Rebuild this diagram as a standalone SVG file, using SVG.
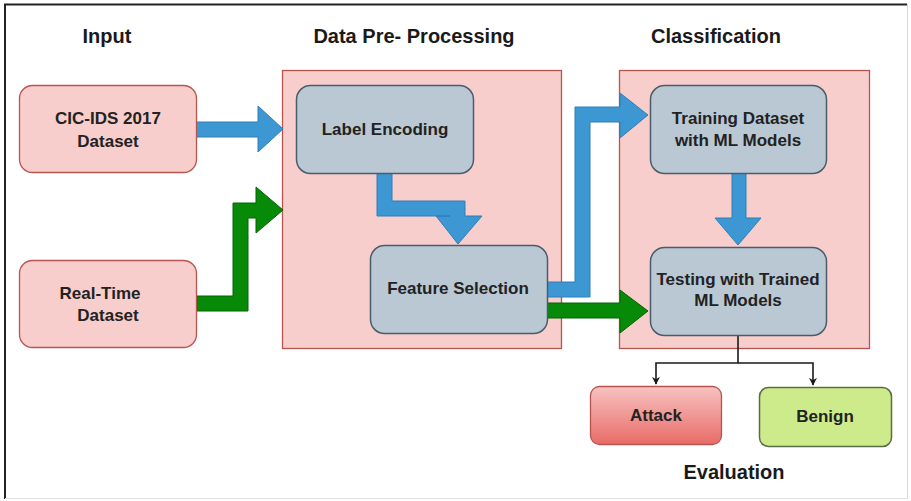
<svg xmlns="http://www.w3.org/2000/svg" width="911" height="501" viewBox="0 0 911 501">
<defs>
<style>
.t{font-family:"Liberation Sans",Arial,sans-serif;font-weight:bold;fill:#1a1a1a}
.title{font-size:20px}
.lbl{font-size:17px;fill:#222}
.in{fill:#f8cecc;stroke:#b85450;stroke-width:1.3}
.grp{fill:#f8cecc;stroke:#b85450;stroke-width:1.3}
.proc{fill:#bac8d3;stroke:#4a5c6b;stroke-width:1.5}
.blue{fill:#3d97d3;stroke:#2f7fb8;stroke-width:1}
.green{fill:#078a07;stroke:#056405;stroke-width:1}
.edge{fill:none;stroke:#1a1a1a;stroke-width:1.6}
</style>
<linearGradient id="gAttack" x1="0" y1="0" x2="0" y2="1">
<stop offset="0" stop-color="#f6c3c1"/>
<stop offset="1" stop-color="#e96b67"/>
</linearGradient>
<marker id="ah" viewBox="0 0 10 10" refX="9" refY="5" markerWidth="8" markerHeight="8" markerUnits="userSpaceOnUse" orient="auto">
<path d="M0,0 L10,5 L0,10 L3,5 Z" fill="#1a1a1a"/>
</marker>
</defs>
<rect width="911" height="501" fill="#ffffff"/>
<line x1="4" y1="4.5" x2="907" y2="4.5" stroke="#222" stroke-width="2"/>
<line x1="5" y1="4" x2="5" y2="499" stroke="#222" stroke-width="2"/>
<line x1="907.5" y1="4" x2="907.5" y2="499" stroke="#d8d8d8" stroke-width="1"/>
<line x1="5" y1="498.5" x2="908" y2="498.5" stroke="#e0e0e0" stroke-width="1"/>

<g id="title-input"><text class="t title" x="107" y="43" text-anchor="middle">Input</text></g>
<g id="title-preprocessing"><text class="t title" x="414" y="43" text-anchor="middle">Data Pre- Processing</text></g>
<g id="title-classification"><text class="t title" x="716" y="43" text-anchor="middle">Classification</text></g>
<g id="title-evaluation"><text class="t title" x="734" y="479" text-anchor="middle">Evaluation</text></g>

<g id="group-preprocessing"><rect class="grp" x="282.5" y="70.5" width="279" height="278"/></g>
<g id="group-classification"><rect class="grp" x="619.5" y="70.5" width="250" height="278"/></g>

<g id="connectors">
<path class="blue" d="M196,122 H258 V106 L283,129 L258,152 V137 H196 Z"/>
<path class="green" d="M197,296 H233 V203 H256 V187 L283,210 L256,233 V218 H248 V311 H197 Z"/>
<path class="blue" d="M377,173 H392 V201 H465 V216 H482 L458,244 L436,216 H450 H377 Z"/>
<path class="blue" d="M547,282 H575 V107 H620 V93 L648,115 L620,138 V122 H590 V297 H547 Z"/>
<path class="green" d="M547,303 H620 V290 L648,311 L620,333 V318 H547 Z"/>
<path class="blue" d="M732,173 H746 V218 H761 L738,245 L715,218 H732 Z"/>
<path class="edge" d="M738,335 V363 H656 V384" marker-end="url(#ah)"/>
<path class="edge" d="M738,363 H813 V385" marker-end="url(#ah)"/>
</g>

<g id="node-cicids">
<rect class="in" x="19.5" y="85.5" width="177" height="87" rx="13"/>
<text class="t lbl" x="108" y="124" text-anchor="middle">CIC-IDS 2017</text>
<text class="t lbl" x="108" y="147" text-anchor="middle">Dataset</text>
</g>
<g id="node-realtime">
<rect class="in" x="19.5" y="260.5" width="177" height="87" rx="13"/>
<text class="t lbl" x="100" y="299" text-anchor="middle">Real-Time</text>
<text class="t lbl" x="108" y="321" text-anchor="middle">Dataset</text>
</g>
<g id="node-label-encoding">
<rect class="proc" x="296.5" y="85.5" width="177" height="88" rx="14"/>
<text class="t lbl" x="385" y="135" text-anchor="middle">Label Encoding</text>
</g>
<g id="node-feature-selection">
<rect class="proc" x="370.5" y="245.5" width="177" height="88" rx="14"/>
<text class="t lbl" x="458" y="294" text-anchor="middle">Feature Selection</text>
</g>
<g id="node-training">
<rect class="proc" x="650.5" y="85.5" width="176" height="88" rx="14"/>
<text class="t lbl" x="738" y="124" text-anchor="middle">Training Dataset</text>
<text class="t lbl" x="738" y="146" text-anchor="middle">with ML Models</text>
</g>
<g id="node-testing">
<rect class="proc" x="650.5" y="247.5" width="176" height="88" rx="14"/>
<text class="t lbl" x="738" y="285" text-anchor="middle">Testing with Trained</text>
<text class="t lbl" x="738" y="306" text-anchor="middle">ML Models</text>
</g>
<g id="node-attack">
<rect x="590.5" y="386.5" width="131" height="58" rx="9" fill="url(#gAttack)" stroke="#b85450" stroke-width="1.3"/>
<text class="t lbl" x="656" y="421" text-anchor="middle">Attack</text>
</g>
<g id="node-benign">
<rect x="759.5" y="387.5" width="132" height="59" rx="9" fill="#cdeb8b" stroke="#5b6b45" stroke-width="1.5"/>
<text class="t lbl" x="825" y="422" text-anchor="middle">Benign</text>
</g>
</svg>
